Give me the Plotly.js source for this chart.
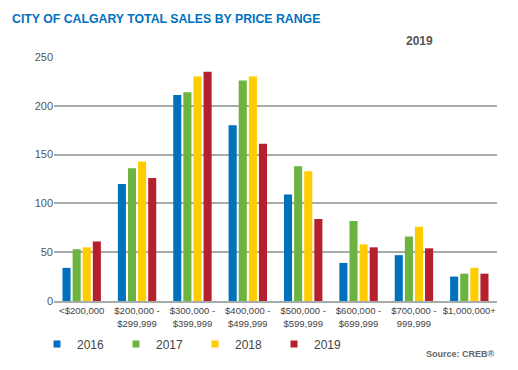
<!DOCTYPE html>
<html><head><meta charset="utf-8">
<script src="https://cdn.plot.ly/plotly-3.0.1.min.js"></script>
<style>html,body{margin:0;padding:0;background:#fff}#chart{width:518px;height:370px}</style>
</head><body><div id="chart"></div>
<script>
const categories = ["<$200,000","$200,000 -<br>$299,999","$300,000 -<br>$399,999","$400,000 -<br>$499,999","$500,000 -<br>$599,999","$600,000 -<br>$699,999","$700,000 -<br>999,999","$1,000,000+"];
const years = ["2016","2017","2018","2019"];
const sales2016 = [34,120,211,180,109,39,47,25];
const sales2017 = [53,136,214,226,138,82,66,28];
const sales2018 = [55,143,230,230,133,58,76,34];
const sales2019 = [61,126,235,161,84,55,54,28];
const yTicks = [0,50,100,150,200,250];

const colors = ["#0072BC","#6DB33F","#FFCC00","#B5202E"];
const series = [sales2016,sales2017,sales2018,sales2019];
const font = "Liberation Sans, Arial, sans-serif";

const traces = [];
series.forEach((vals,i)=>{
  traces.push({type:"bar",x:categories,y:vals,name:years[i],showlegend:false,
    marker:{color:colors[i],line:{width:0}},hoverinfo:"y"});
});
series.forEach((vals,i)=>{
  traces.push({type:"scatter",mode:"markers",x:[null],y:[null],name:years[i],
    marker:{symbol:"square",size:7,color:colors[i]}});
});

const layout = {
  width:518,height:370,
  margin:{l:54,r:21,t:57,b:69},
  paper_bgcolor:"#fff",plot_bgcolor:"#fff",
  font:{family:font,color:"#444"},
  title:{text:"<b>CITY OF CALGARY TOTAL SALES BY PRICE RANGE</b>",x:12/518,xref:"container",xanchor:"left",
    y:1-19/370,yref:"container",yanchor:"middle",font:{family:font,size:12.3,color:"#0070C0"}},
  barmode:"group",bargap:0.27,bargroupgap:0.2,
  xaxis:{type:"category",tickfont:{size:9.5,color:"#444"},tickangle:0,automargin:false,showline:true,linecolor:"#A6ACA9",linewidth:2,
    ticks:"",showgrid:false,fixedrange:true},
  yaxis:{range:[0,250],tickvals:yTicks,tickfont:{size:11,color:"#555"},gridcolor:"#A6ACA9",gridwidth:2,automargin:false,
    zeroline:false,ticks:"",ticklen:0,fixedrange:true},
  legend:{orientation:"h",xref:"container",yref:"container",x:37/518,xanchor:"left",y:1-344/370,yanchor:"middle",
    font:{size:12,color:"#444"},bgcolor:"rgba(0,0,0,0)",
    entrywidth:34,entrywidthmode:"pixels",itemclick:false},
  annotations:[
    {text:"<b>2019</b>",xref:"paper",yref:"paper",x:0.825,y:1.065,xanchor:"center",yanchor:"middle",showarrow:false,
      font:{family:font,size:12,color:"#555"}},
    {text:"<b>Source: CREB®</b>",xref:"paper",yref:"paper",x:1,y:-0.217,xanchor:"right",yanchor:"middle",showarrow:false,
      font:{family:font,size:9,color:"#666"}}
  ]
};
Plotly.newPlot("chart",traces,layout,{displayModeBar:false,staticPlot:true});
</script></body></html>
